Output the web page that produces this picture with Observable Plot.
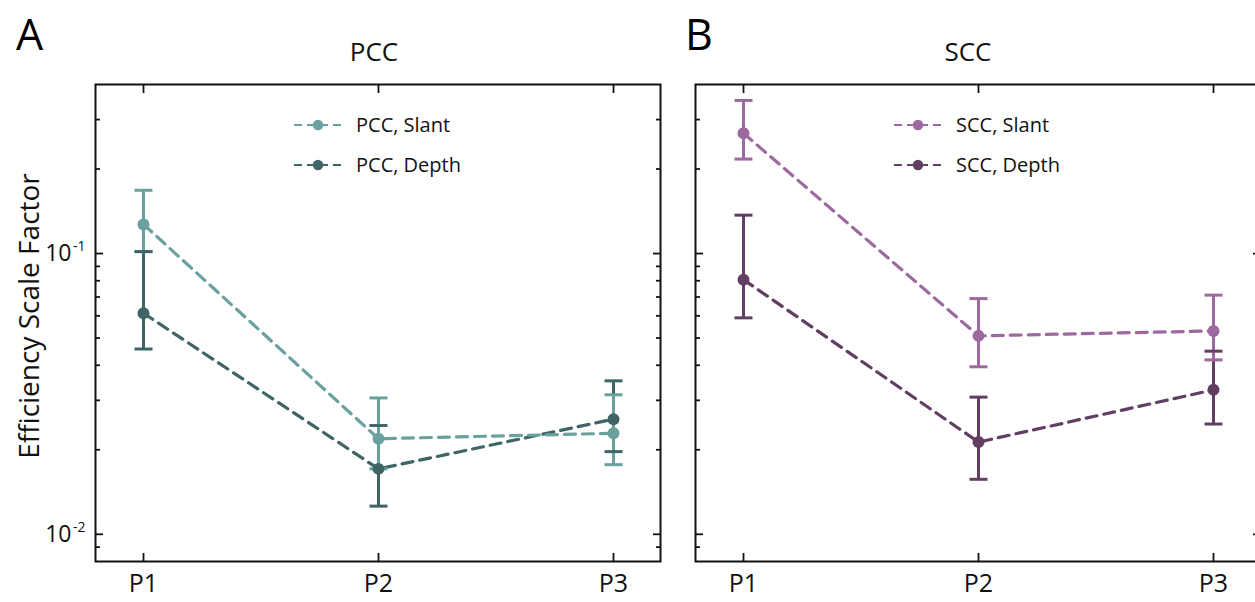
<!DOCTYPE html>
<html><head><meta charset="utf-8">
<script src="https://cdn.jsdelivr.net/npm/d3@7"></script>
<script src="https://cdn.jsdelivr.net/npm/@observablehq/plot@0.6"></script>
<style>
body{margin:0;background:#fff;font-family:"Open Sans",sans-serif;}
#wrap{position:relative;width:1255px;height:602px;overflow:hidden;background:#fff;}
#wrap > svg {position:absolute;top:0;}
</style></head><body><div id="wrap"></div>
<script>
const positions = ["P1", "P2", "P3"];
const seriesNames = ["PCC, Slant", "PCC, Depth", "SCC, Slant", "SCC, Depth"];
const pccSlant   = [0.127, 0.0219, 0.0229];
const pccSlantLo = [0.1016, 0.0171, 0.0177];
const pccSlantHi = [0.168, 0.0306, 0.0314];
const pccDepth   = [0.0613, 0.0171, 0.0257];
const pccDepthLo = [0.0457, 0.0126, 0.0197];
const pccDepthHi = [0.1016, 0.0244, 0.0352];
const sccSlant   = [0.268, 0.0509, 0.0530];
const sccSlantLo = [0.217, 0.0395, 0.0418];
const sccSlantHi = [0.351, 0.0691, 0.0711];
const sccDepth   = [0.0807, 0.0213, 0.0327];
const sccDepthLo = [0.0590, 0.0157, 0.0247];
const sccDepthHi = [0.137, 0.0308, 0.0449];
const majorTicks = [0.01, 0.1];
const majorTickExp = ["-2", "-1"];
const minorTicks = [0.009, 0.02, 0.03, 0.04, 0.05, 0.06, 0.07, 0.08, 0.09, 0.2, 0.3];
const colors = {"PCC, Slant": "#6aa09e", "PCC, Depth": "#3f6567", "SCC, Slant": "#9d6aa0", "SCC, Depth": "#603f63"};

function rows(name, v, lo, hi) {
  return positions.map((p, i) => ({series: name, pos: p, value: v[i], lo: lo[i], hi: hi[i]}));
}
const pccData = [...rows("PCC, Depth", pccDepth, pccDepthLo, pccDepthHi), ...rows("PCC, Slant", pccSlant, pccSlantLo, pccSlantHi)];
const sccData = [...rows("SCC, Depth", sccDepth, sccDepthLo, sccDepthHi), ...rows("SCC, Slant", sccSlant, sccSlantLo, sccSlantHi)];

// horizontal cap symbol for error bars
const capSymbol = {draw(ctx, size) { const r = Math.sqrt(size / Math.PI); ctx.moveTo(-r, 0); ctx.lineTo(r, 0); }};

const W = 680, H = 602;
function panel(data, names, showY) {
  const tk = {label: null, tickFormat: () => "", strokeWidth: 1.8, stroke: "#111"};
  const marks = [
    Plot.axisX({anchor: "bottom", tickSize: 0, tickPadding: 13, fontSize: 25, label: null, fill: "#111"}),
    Plot.axisX({anchor: "bottom", tickSize: -8, ...tk}),
    Plot.axisX({anchor: "top", tickSize: -8, ...tk}),
    Plot.axisY(majorTicks, {anchor: "left", tickSize: -8, ...tk}),
    Plot.axisY(minorTicks, {anchor: "left", tickSize: -5, ...tk}),
    Plot.axisY(majorTicks, {anchor: "right", tickSize: -8, ...tk}),
    Plot.axisY(minorTicks, {anchor: "right", tickSize: -5, ...tk}),
    Plot.line(data, {x: "pos", y: "value", z: "series", stroke: "series", strokeWidth: 3.2, strokeDasharray: "11,7"}),
    Plot.ruleX(data, {x: "pos", y1: "lo", y2: "hi", stroke: "series", strokeWidth: 3}),
    Plot.dot(data, {x: "pos", y: "lo", stroke: "series", strokeWidth: 3, symbol: capSymbol, r: 9}),
    Plot.dot(data, {x: "pos", y: "hi", stroke: "series", strokeWidth: 3, symbol: capSymbol, r: 9}),
    Plot.dot(data, {x: "pos", y: "value", fill: "series", r: 6}),
    Plot.frame({stroke: "#111", strokeWidth: 2})
  ];
  if (showY) {
    marks.push(
      Plot.text(majorTicks, {y: d => d, text: () => "10", frameAnchor: "left", textAnchor: "end", dx: -24, fontSize: 23, fill: "#111"}),
      Plot.text(majorTicks, {y: d => d, text: (d, i) => majorTickExp[i], frameAnchor: "left", textAnchor: "end", dx: -10, dy: -7, fontSize: 14, fill: "#111"})
    );
  }
  return Plot.plot({
    width: W, height: H, marginLeft: 95, marginRight: 20, marginTop: 84, marginBottom: 41,
    style: {fontFamily: "Open Sans", background: "transparent", overflow: "visible"},
    x: {type: "point", domain: positions, padding: 0.2},
    y: {type: "log", domain: [0.008, 0.4]},
    color: {domain: names, range: names.map(n => colors[n])},
    marks
  });
}

const wrap = document.getElementById("wrap");
const p1 = panel(pccData, ["PCC, Slant", "PCC, Depth"], true);
p1.style.left = "0px";
const p2 = panel(sccData, ["SCC, Slant", "SCC, Depth"], false);
p2.style.left = "600px";
wrap.appendChild(p1);
wrap.appendChild(p2);

// overlay: panel letters, titles, y label, legends
const ov = d3.select(wrap).append("svg")
  .attr("width", 1255).attr("height", 602)
  .style("left", "0px").style("font-family", "Open Sans").style("pointer-events", "none");
const panels = [
  {letter: "A", letterX: 16, title: "PCC", off: 0, titleX: 374, names: ["PCC, Slant", "PCC, Depth"]},
  {letter: "B", letterX: 685, title: "SCC", off: 600, titleX: 968, names: ["SCC, Slant", "SCC, Depth"]}
];
panels.forEach(p => {
  ov.append("text").attr("x", p.letterX).attr("y", 50).attr("font-size", 43).attr("font-weight", 500).attr("fill", "#000").text(p.letter);
  ov.append("text").attr("x", p.titleX).attr("y", 61).attr("text-anchor", "middle").attr("font-size", 26).attr("fill", "#111").text(p.title);
  p.names.forEach((n, i) => {
    const y = 125 + i * 40;
    const g = ov.append("g");
    g.append("line").attr("x1", p.off + 294).attr("x2", p.off + 342).attr("y1", y).attr("y2", y)
      .attr("stroke", colors[n]).attr("stroke-width", 2.2).attr("stroke-dasharray", "8,5");
    g.append("circle").attr("cx", p.off + 318).attr("cy", y).attr("r", 5.2).attr("fill", colors[n]);
    g.append("text").attr("x", p.off + 356).attr("y", y).attr("dy", "0.35em").attr("font-size", 20).attr("fill", "#111").text(n);
  });
});
ov.append("text").attr("transform", "translate(29,316) rotate(-90)").attr("text-anchor", "middle")
  .attr("dy", "0.35em").attr("font-size", 28).attr("fill", "#111").text("Efficiency Scale Factor");
</script></body></html>
